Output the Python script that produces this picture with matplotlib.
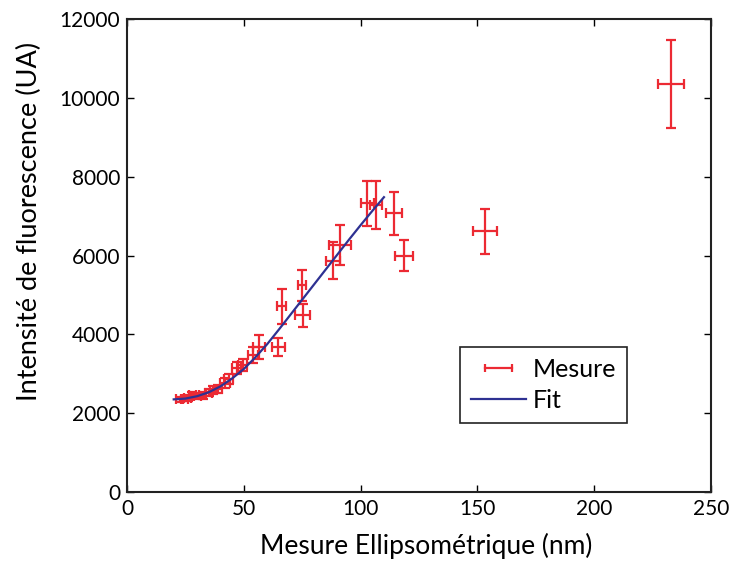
import matplotlib
matplotlib.use("Agg")
import matplotlib.pyplot as plt
from matplotlib.lines import Line2D
from matplotlib.legend_handler import HandlerBase

plt.rcParams['font.family'] = ['Lato', 'DejaVu Sans']

# Measurement data
meas_x = [22.5, 24.5, 26.0, 28.0, 30.0, 32.5, 35.0, 37.0, 39.0, 42.0, 43.5, 47.0, 49.5,
          54.0, 56.5, 64.8, 66.2, 74.8, 75.2, 88.3, 91.2, 102.9, 106.6, 114.3, 118.6,
          153.3, 232.9]
meas_y = [2350, 2360, 2380, 2460, 2440, 2450, 2520, 2580, 2620, 2760, 2870, 3150, 3230,
          3480, 3680, 3680, 4710, 5240, 4480, 5870, 6270, 7320, 7270, 7070, 6000,
          6610, 10350]
meas_xerr = [1.5, 1.5, 1.5, 1.5, 1.5, 1.5, 1.5, 1.5, 1.5, 2.0, 2.0, 2.0, 2.0,
             2.0, 2.5, 2.7, 1.9, 1.8, 3.1, 3.0, 4.6, 2.9, 2.7, 3.5, 3.8,
             5.3, 5.5]
meas_yerr = [60, 60, 70, 80, 80, 80, 90, 100, 100, 120, 130, 150, 150,
             200, 300, 220, 450, 400, 300, 470, 500, 580, 610, 540, 390,
             570, 1110]

# Fit curve
fit_x = [20, 25, 30, 35, 40, 45, 50, 55, 60, 65, 70, 75, 80, 85, 90, 95, 100, 105, 110]
fit_y = [2350, 2370, 2430, 2530, 2680, 2880, 3120, 3420, 3750, 4120, 4500, 4880,
         5260, 5640, 6020, 6400, 6770, 7130, 7480]

x_ticks = [0, 50, 100, 150, 200, 250]
y_ticks = [0, 2000, 4000, 6000, 8000, 10000, 12000]

RED = '#ec2a33'
BLUE = '#2e3192'

fig = plt.figure(figsize=(7.36, 5.62), dpi=100)
ax = fig.add_axes([127/736, 1 - 492/562, (711 - 127)/736, (492 - 19)/562])

ax.errorbar(meas_x, meas_y, xerr=meas_xerr, yerr=meas_yerr, fmt='none',
            ecolor=RED, elinewidth=1.6, capsize=3.4, capthick=1.6, zorder=2)
ax.plot(fit_x, fit_y, color=BLUE, lw=1.6, zorder=3)

ax.set_xlim(0, 250)
ax.set_ylim(0, 12000)
ax.set_xticks(x_ticks)
ax.set_yticks(y_ticks)
ax.tick_params(direction='in', top=True, right=True, length=5, width=1,
               labelsize=15, pad=5)
for s in ax.spines.values():
    s.set_linewidth(1.5)
    s.set_color('#222222')

ax.set_xlabel('Mesure Ellipsométrique (nm)', fontsize=19)
ax.set_ylabel('Intensité de fluorescence (UA)', fontsize=19.5)
ax.xaxis.set_label_coords(0.512, -0.086)
ax.yaxis.set_label_coords(-0.145, 0.571)


class HandlerXErr(HandlerBase):
    def create_artists(self, legend, orig_handle, xdescent, ydescent, width,
                       height, fontsize, trans):
        cx = width / 2 - xdescent
        cy = height / 2 - ydescent
        half = width * 0.24
        line = Line2D([cx - half, cx + half], [cy, cy], color=RED, lw=1.6)
        caps = Line2D([cx - half, cx + half], [cy, cy], ls='', marker='|',
                      ms=6, mew=1.6, color=RED)
        line.set_transform(trans)
        caps.set_transform(trans)
        return [line, caps]


meas_proxy = Line2D([], [], color=RED)
fit_proxy = Line2D([], [], color=BLUE, lw=1.6)
leg = ax.legend([meas_proxy, fit_proxy], ['Mesure', 'Fit'],
                handler_map={meas_proxy: HandlerXErr()},
                loc='upper left', bbox_to_anchor=(0.570, 0.3066),
                borderaxespad=0,
                fontsize=18, handlelength=2.2, handletextpad=0.25,
                borderpad=0.45, labelspacing=0.3, fancybox=False,
                framealpha=1, edgecolor='#222222')
leg.get_frame().set_linewidth(1.2)

fig.savefig('out.png', dpi=100)
